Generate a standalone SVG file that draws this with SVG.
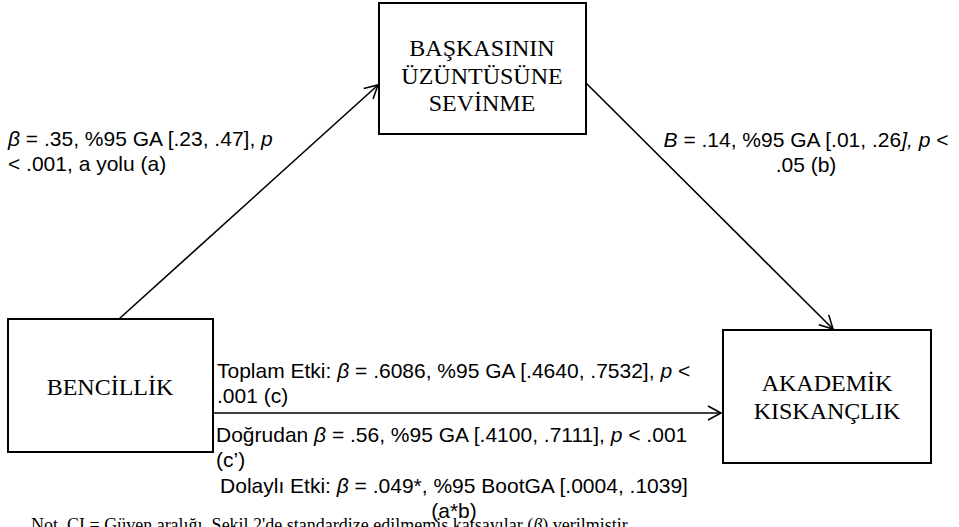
<svg xmlns="http://www.w3.org/2000/svg" width="959" height="527" viewBox="0 0 959 527">
<defs>
<style>
.box{fill:#fff;stroke:#000;stroke-width:2}
.node{font-family:"Liberation Serif","Times New Roman",serif;font-size:24px;fill:#000;text-anchor:middle}
.lbl{font-family:"Liberation Sans",Arial,sans-serif;font-size:21px;fill:#000}
.ln{stroke:#000;stroke-width:1.6;fill:none}
.note{font-family:"Liberation Serif","Times New Roman",serif;font-size:18px;fill:#000}
</style>
<marker id="arr" markerUnits="userSpaceOnUse" markerWidth="20" markerHeight="20" refX="14" refY="8" orient="auto">
<path d="M1,1 L14,8 L1,15" fill="none" stroke="#000" stroke-width="1.6"/>
</marker>
</defs>
<rect width="959" height="527" fill="#fff"/>
<g id="connectors">
<line class="ln" x1="119" y1="319" x2="378" y2="85" marker-end="url(#arr)"/>
<line class="ln" x1="586" y1="83" x2="833" y2="329" marker-end="url(#arr)"/>
<line class="ln" x1="213" y1="413" x2="721" y2="413" marker-end="url(#arr)"/>
</g>
<g id="node-baskasinin">
<rect class="box" x="379" y="3" width="207" height="131"/>
<text class="node" x="482" y="56">BAŞKASININ</text>
<text class="node" x="482" y="84">ÜZÜNTÜSÜNE</text>
<text class="node" x="482" y="111">SEVİNME</text>
</g>
<g id="node-bencillik">
<rect class="box" x="8" y="319" width="205" height="133"/>
<text class="node" x="110" y="395">BENCİLLİK</text>
</g>
<g id="node-akademik">
<rect class="box" x="723" y="330" width="208" height="133"/>
<text class="node" x="827" y="391">AKADEMİK</text>
<text class="node" x="827" y="419">KISKANÇLIK</text>
</g>
<g id="labels">
<text class="lbl" x="8" y="146"><tspan font-style="italic">β</tspan> = .35, %95 GA [.23, .47], <tspan font-style="italic">p</tspan></text>
<text class="lbl" x="8" y="171">&lt; .001, a yolu (a)</text>
<text class="lbl" x="806" y="147" text-anchor="middle"><tspan font-style="italic">B</tspan> = .14, %95 GA [.01, .26<tspan font-style="italic">], p</tspan> &lt;</text>
<text class="lbl" x="806" y="172" text-anchor="middle">.05 (b)</text>
<text class="lbl" x="217" y="378">Toplam Etki: <tspan font-style="italic">β</tspan> = .6086, %95 GA [.4640, .7532], <tspan font-style="italic">p</tspan> &lt;</text>
<text class="lbl" x="217" y="403">.001 (c)</text>
<text class="lbl" x="216" y="442">Doğrudan <tspan font-style="italic">β</tspan> = .56, %95 GA [.4100, .7111], <tspan font-style="italic">p</tspan> &lt; .001</text>
<text class="lbl" x="216" y="467">(c’)</text>
<text class="lbl" x="454" y="493" text-anchor="middle">Dolaylı Etki: <tspan font-style="italic">β</tspan> = .049*, %95 BootGA [.0004, .1039]</text>
<text class="lbl" x="454" y="518" text-anchor="middle">(a*b)</text>
<text class="note" x="31" y="531">Not. CI = Güven aralığı. Şekil 2'de standardize edilmemiş katsayılar (<tspan font-style="italic">β</tspan>) verilmiştir.</text>
</g>
</svg>
